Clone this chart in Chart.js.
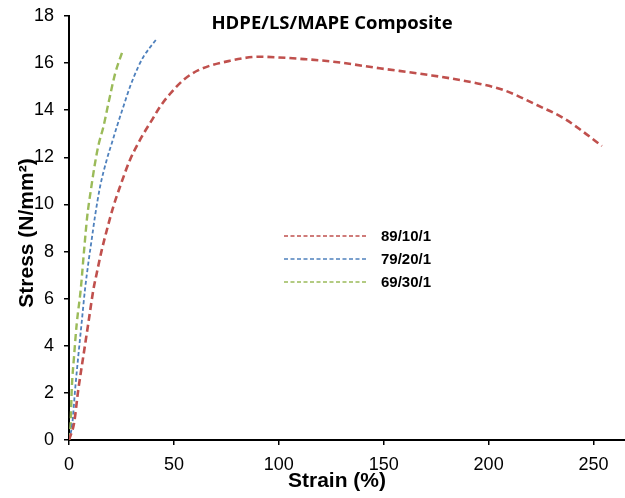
<!DOCTYPE html>
<html>
<head>
<meta charset="utf-8">
<script src="https://cdn.jsdelivr.net/npm/chart.js@4"></script>
<style>
  html, body { margin: 0; padding: 0; background: #fff; }
  #wrap { width: 625px; height: 498px; position: relative; }
</style>
</head>
<body>
<div id="wrap"><canvas id="stressChart"></canvas></div>
<script>
// values
const strain89 = [0, 2.4, 4.4, 6.8, 9.2, 11.6, 13.2, 15.6, 18, 21.1, 24.3, 29.1, 33, 35.5, 39.5, 43.4, 48.2, 54.5, 61.7, 76.8, 91, 100, 112, 126, 148, 172, 193, 207, 223, 236, 245, 254];
const stress89 = [0, 0.71, 2.12, 3.54, 4.95, 6.37, 7.07, 8.06, 8.9, 9.9, 10.75, 11.9, 12.6, 13.0, 13.58, 14.15, 14.7, 15.28, 15.7, 16.1, 16.27, 16.24, 16.17, 16.06, 15.78, 15.49, 15.17, 14.86, 14.22, 13.65, 13.09, 12.48];

const strain79 = [0, 1.6, 2.9, 4.4, 6.0, 7.6, 9.2, 10.8, 12.4, 14.8, 18, 20.4, 22.8, 25.9, 29.1, 33.1, 35.5, 41.5];
const stress79 = [0, 0.71, 2.12, 3.54, 4.95, 6.37, 7.5, 8.5, 9.5, 10.75, 11.9, 12.6, 13.3, 14.15, 15.0, 15.86, 16.27, 17.0];

const strain69 = [0, 0.8, 1.3, 2.4, 3.7, 5.6, 7.2, 8.7, 10.4, 12.4, 14.0, 16.4, 18.8, 22, 25.4];
const stress69 = [0, 0.71, 2.12, 3.54, 4.95, 6.4, 8.06, 9.5, 10.6, 11.75, 12.5, 13.3, 14.3, 15.56, 16.48];

const seriesNames = ['89/10/1', '79/20/1', '69/30/1'];
const xTicks = [0, 50, 100, 150, 200, 250];
const yTicks = [0, 2, 4, 6, 8, 10, 12, 14, 16, 18];

function toPoints(xs, ys) {
    return xs.map((x, i) => ({ x: x, y: ys[i] }));
}

// titles and the floating legend are drawn by hand so they can sit where the original has them
const extraText = {
    id: 'extraText',
    afterDraw(chart) {
        const ctx = chart.ctx;
        ctx.save();
        ctx.fillStyle = '#000';

        // chart title
        ctx.font = 'bold 18.5px "Open Sans"';
        ctx.textAlign = 'center';
        ctx.textBaseline = 'middle';
        ctx.fillText('HDPE/LS/MAPE Composite', 332, 24);

        // x axis title
        ctx.font = 'bold 21px "Liberation Sans"';
        ctx.fillText('Strain (%)', 337, 481);

        // y axis title
        ctx.save();
        ctx.translate(27, 233);
        ctx.rotate(-Math.PI / 2);
        ctx.fillText('Stress (N/mm\u00B2)', 0, 0);
        ctx.restore();

        // legend
        const rows = [236, 259, 282];
        chart.data.datasets.forEach((ds, i) => {
            ctx.beginPath();
            ctx.strokeStyle = ds.borderColor;
            ctx.lineWidth = 1.6;
            ctx.setLineDash([4, 2.5]);
            ctx.moveTo(284, rows[i]);
            ctx.lineTo(368, rows[i]);
            ctx.stroke();
            ctx.setLineDash([]);
            ctx.font = 'bold 15px "Liberation Sans"';
            ctx.textAlign = 'left';
            ctx.fillText(ds.label, 381, rows[i] + 1);
        });
        ctx.restore();
    }
};

new Chart(document.getElementById('stressChart'), {
    type: 'scatter',
    data: {
        datasets: [{
            label: seriesNames[0],
            data: toPoints(strain89, stress89),
            borderColor: '#C0504D',
            borderWidth: 2.6,
            borderDash: [7, 4]
        }, {
            label: seriesNames[1],
            data: toPoints(strain79, stress79),
            borderColor: '#4F81BD',
            borderWidth: 1.8,
            borderDash: [4, 2.5]
        }, {
            label: seriesNames[2],
            data: toPoints(strain69, stress69),
            borderColor: '#9BBB59',
            borderWidth: 2.4,
            borderDash: [7, 4]
        }].map(ds => Object.assign(ds, {
            showLine: true,
            pointRadius: 0,
            pointHoverRadius: 0,
            fill: false,
            cubicInterpolationMode: 'monotone',
            backgroundColor: ds.borderColor
        }))
    },
    options: {
        responsive: true,
        maintainAspectRatio: false,
        animation: false,
        layout: { padding: { top: 16, right: 0, left: 0, bottom: 0 } },
        plugins: {
            legend: { display: false },
            tooltip: { enabled: false }
        },
        scales: {
            x: {
                type: 'linear',
                min: 0,
                max: 265,
                afterBuildTicks: axis => { axis.ticks = xTicks.map(v => ({ value: v })); },
                afterFit: axis => {
                    axis.height = 58;
                    axis.paddingLeft = 0;
                    axis.paddingRight = 0;
                },
                ticks: {
                    color: '#000',
                    font: { family: 'Liberation Sans', size: 18 },
                    padding: 9,
                    maxRotation: 0
                },
                grid: { display: true, drawOnChartArea: false, drawTicks: true, tickLength: 5, color: '#000', lineWidth: 1.5 },
                border: { display: true, color: '#000', width: 2 }
            },
            y: {
                type: 'linear',
                min: 0,
                max: 18,
                afterBuildTicks: axis => { axis.ticks = yTicks.map(v => ({ value: v })); },
                afterFit: axis => {
                    axis.width = 69;
                    axis.paddingTop = 0;
                    axis.paddingBottom = 0;
                },
                ticks: {
                    color: '#000',
                    font: { family: 'Liberation Sans', size: 18 },
                    padding: 10
                },
                grid: { display: true, drawOnChartArea: false, drawTicks: true, tickLength: 5, color: '#000', lineWidth: 1.5 },
                border: { display: true, color: '#000', width: 2 }
            }
        }
    },
    plugins: [extraText]
});
</script>
</body>
</html>
